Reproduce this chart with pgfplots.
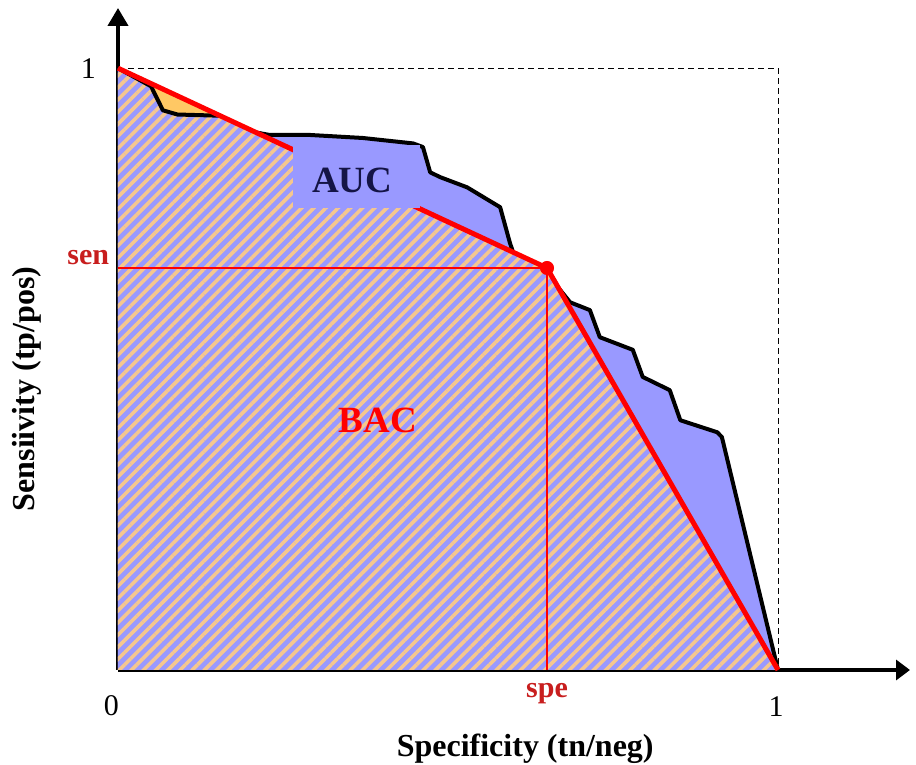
\documentclass[border=0pt]{standalone}
\usepackage{pgfplots}
\usepackage{pgfplotstable}
\pgfplotsset{compat=1.18}
\usetikzlibrary{patterns.meta,arrows.meta}
\usepackage{fontspec}
\setmainfont{Liberation Serif}
\definecolor{aucblue}{RGB}{153,153,255}
\definecolor{stripeor}{RGB}{245,199,142}
\definecolor{triorange}{RGB}{255,200,100}
\definecolor{lblred}{RGB}{200,30,30}
\definecolor{aucnavy}{RGB}{20,20,70}

% ROC curve
\pgfplotstableread{
x y
0 1
0.05 0.970
0.068 0.930
0.09 0.923
0.155 0.921
0.17 0.905
0.20 0.895
0.230 0.889
0.291 0.889
0.371 0.884
0.447 0.875
0.462 0.869
0.473 0.827
0.488 0.819
0.529 0.802
0.579 0.769
0.594 0.709
0.60 0.69
0.63 0.675
0.66 0.645
0.685 0.611
0.715 0.598
0.730 0.553
0.780 0.532
0.795 0.487
0.836 0.465
0.852 0.415
0.908 0.395
0.915 0.387
1 0
}\roccurve

\begin{document}
\begin{tikzpicture}
\begin{axis}[
    name=ax,
    scale only axis,
    width=396pt, height=331pt,
    xmin=0, xmax=1.2, ymin=0, ymax=1.1,
    axis lines=left,
    axis line style={line width=2pt},
    x axis line style={-{Triangle[length=7pt,width=10pt]}},
    y axis line style={-{Triangle[length=9pt,width=10pt]}},
    xtick=\empty, ytick=\empty,
    clip=false,
]
% AUC area
\addplot[draw=none, fill=aucblue] table {\roccurve} \closedcycle;
\addplot[black, line width=2pt, line join=round] table {\roccurve};
% BAC area, hatched
\addplot[draw=none, fill=aucblue,
    postaction={pattern={Lines[angle=45,distance=4.3pt,line width=1.8pt]}, pattern color=stripeor}]
    coordinates {(0,0) (0,1) (0.65,0.668) (1,0)} -- cycle;
% small part of BAC above the curve
\addplot[draw=none, fill=triorange]
    coordinates {(0,1) (0.05,0.970) (0.068,0.930) (0.09,0.923) (0.155,0.921)} -- cycle;
\addplot[black, line width=2pt, line join=round]
    coordinates {(0,1) (0.05,0.970) (0.068,0.930) (0.09,0.923) (0.155,0.921)};
% dashed frame
\addplot[black, thin, dash pattern=on 3pt off 2pt] coordinates {(0,1) (1,1) (1,0)};
% sen / spe guides
\addplot[red, line width=0.7pt] coordinates {(0,0.668) (0.65,0.668) (0.65,0)};
% BAC line
\addplot[red, line width=2.5pt, line join=round] coordinates {(0,1) (0.65,0.668) (1,0)};
\addplot[only marks, mark=*, red, mark size=3.3pt] coordinates {(0.65,0.668)};
% AUC label box
\fill[aucblue] (axis cs:0.265,0.767) rectangle (axis cs:0.458,0.872);
\node[text=aucnavy, font=\fontsize{18.5}{22}\selectfont\bfseries] at (axis cs:0.355,0.814) {AUC};
\node[text=red, font=\fontsize{18.5}{22}\selectfont\bfseries] at (axis cs:0.394,0.414) {BAC};
% tick texts
\node[font=\fontsize{15}{18}\selectfont] at (axis cs:-0.045,1.0) {1};
\node[font=\fontsize{15}{18}\selectfont] at (axis cs:-0.01,-0.06) {0};
\node[font=\fontsize{15}{18}\selectfont] at (axis cs:0.997,-0.06) {1};
\node[text=lblred, font=\fontsize{15}{18}\selectfont\bfseries] at (axis cs:-0.045,0.685) {sen};
\node[text=lblred, font=\fontsize{15}{18}\selectfont\bfseries] at (axis cs:0.65,-0.04) {spe};
% axis titles
\node[font=\fontsize{16}{19}\selectfont\bfseries] at (axis cs:0.617,-0.131) {Specificity (tn/neg)};
\node[font=\fontsize{16}{19}\selectfont\bfseries, rotate=90] at (axis cs:-0.138,0.467) {Sensiivity (tp/pos)};
\end{axis}
\pgfresetboundingbox
\path[use as bounding box] ([shift={(-59pt,-47.5pt)}]ax.south west) rectangle ([shift={(3pt,4pt)}]ax.north east);
\end{tikzpicture}
\end{document}
